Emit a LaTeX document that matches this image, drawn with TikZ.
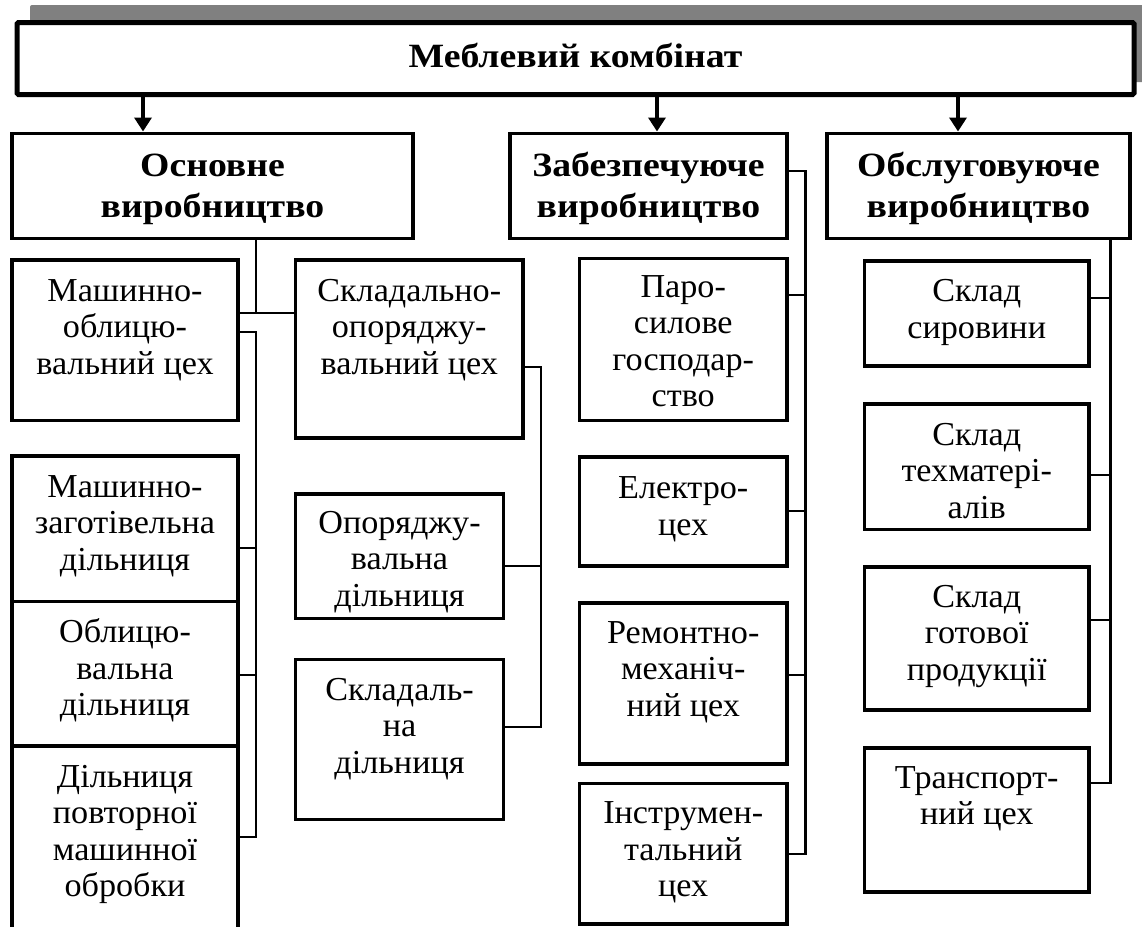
\documentclass[tikz,border=0pt]{standalone}
\usepackage{fontspec}
\setmainfont{Liberation Serif}[FakeStretch=1.02]
\newfontfamily\hdfont{Liberation Serif}[FakeStretch=1.11]
\usetikzlibrary{arrows.meta}
\definecolor{shadowgray}{HTML}{808080}
% style, name, x1, y1, x2, y2, first-baseline offset, text
\newcommand\bx[8]{\node[#1, anchor=north west] (#2) at (#3,#4) {\parbox[t][\dimexpr#6pt-#4pt\relax][t]{\dimexpr#5pt-#3pt\relax}{\centering\rule{0pt}{#7pt}#8}};}
\tikzset{
  basebox/.style={draw=black, fill=white, inner sep=0pt, outer sep=0pt},
  subbox/.style={basebox, line width=3.8pt, font=\fontsize{33.5}{36.5}\selectfont},
  headbox/.style={basebox, line width=3.8pt, font=\hdfont\bfseries\fontsize{34}{41}\selectfont},
  topbox/.style={basebox, line width=5pt, rounded corners=1.5pt, font=\hdfont\bfseries\fontsize{34}{41}\selectfont},
  conn/.style={line width=2.8pt},
  arr/.style={line width=3.5pt, -{Triangle[length=14pt,width=17pt]}, shorten >=2pt},
}
\begin{document}
\begin{tikzpicture}[x=1pt,y=-1pt]
\useasboundingbox (0,0) rectangle (1142,926);
% shadow of the top box
\fill[shadowgray, rounded corners=2pt] (30,5) rectangle (1152,82);
% top box
\bx{topbox}{tb}{17}{22.5}{1134}{94.5}{44.5}{Меблевий комбінат}
% header boxes
\bx{headbox}{osn}{12}{133.5}{413}{238.5}{42.5}{Основне\\виробництво}
\bx{headbox}{zab}{510}{133.5}{787}{238.5}{42.5}{Забезпечуюче\\виробництво}
\bx{headbox}{obs}{827}{133.5}{1130}{238.5}{42.5}{Обслуговуюче\\виробництво}
% column 1
\bx{subbox}{mo}{12}{260}{238}{420.5}{41}{Машинно-\\облицю-\\вальний цех}
\bx{subbox}{mz}{12}{456}{238}{601.5}{41}{Машинно-\\заготівельна\\дільниця}
\bx{subbox}{ob}{12}{601.5}{238}{746}{41}{Облицю-\\вальна\\дільниця}
\bx{subbox}{dp}{12}{746}{238}{960}{41}{Дільниця\\повторної\\машинної\\обробки}
% column 2
\bx{subbox}{so}{295.5}{260}{523}{438}{41}{Складально-\\опоряджу-\\вальний цех}
\bx{subbox}{op}{295.5}{494}{503.5}{618.5}{39}{Опоряджу-\\вальна\\дільниця}
\bx{subbox}{sk}{295.5}{659.5}{503.5}{819.5}{40.5}{Складаль-\\на\\дільниця}
% column 3
\bx{subbox}{par}{579.5}{258.5}{787}{420.5}{38.5}{Паро-\\силове\\господар-\\ство}
\bx{subbox}{el}{579.5}{457}{787}{566}{41.5}{Електро-\\цех}
\bx{subbox}{rem}{579.5}{603}{787}{764}{40}{Ремонтно-\\механіч-\\ний цех}
\bx{subbox}{ins}{579.5}{783.5}{787}{924}{40}{Інструмен-\\тальний\\цех}
% column 4
\bx{subbox}{ss}{864.5}{261}{1089}{366}{40.5}{Склад\\сировини}
\bx{subbox}{st}{864.5}{404}{1089}{529.5}{41}{Склад\\техматері-\\алів}
\bx{subbox}{sg}{864.5}{567}{1089}{710}{40}{Склад\\готової\\продукції}
\bx{subbox}{tr}{864.5}{748}{1089}{892}{40}{Транспорт-\\ний цех}
% bus coordinates
\coordinate (j1) at (256,313);
\coordinate (b1t) at (256,332);
\coordinate (b1b) at (256,837);
\coordinate (b2t) at (541,367);
\coordinate (b2b) at (541,727);
\coordinate (b3t) at (805.5,171);
\coordinate (b3b) at (805.5,854);
\coordinate (b4b) at (1110.5,783);
% arrows
\draw[arr] (tb.south -| 143,0) -- (osn.north -| 143,0);
\draw[arr] (tb.south -| 657,0) -- (zab.north -| 657,0);
\draw[arr] (tb.south -| 958,0) -- (obs.north -| 958,0);
% column 1 / 2 connectors
\draw[conn] (osn.south -| j1) -- (j1);
\draw[conn] (mo.east |- j1) -- (so.west |- j1);
\draw[conn] (mo.east |- b1t) -- (b1t) -- (b1b) -- (dp.east |- b1b);
\draw[conn] (mz.east |- 0,548) -- (b1t |- 0,548);
\draw[conn] (ob.east |- 0,675) -- (b1t |- 0,675);
\draw[conn] (so.east |- b2t) -- (b2t) -- (b2b) -- (sk.east |- b2b);
\draw[conn] (op.east |- 0,566) -- (b2t |- 0,566);
% column 3
\draw[conn] (zab.east |- b3t) -- (b3t) -- (b3b) -- (ins.east |- b3b);
\draw[conn] (par.east |- 0,295) -- (b3t |- 0,295);
\draw[conn] (el.east |- 0,511) -- (b3t |- 0,511);
\draw[conn] (rem.east |- 0,675) -- (b3t |- 0,675);
% column 4
\draw[conn] (obs.south -| b4b) -- (b4b) -- (tr.east |- b4b);
\draw[conn] (ss.east |- 0,298) -- (b4b |- 0,298);
\draw[conn] (st.east |- 0,475) -- (b4b |- 0,475);
\draw[conn] (sg.east |- 0,620) -- (b4b |- 0,620);
\end{tikzpicture}
\end{document}
